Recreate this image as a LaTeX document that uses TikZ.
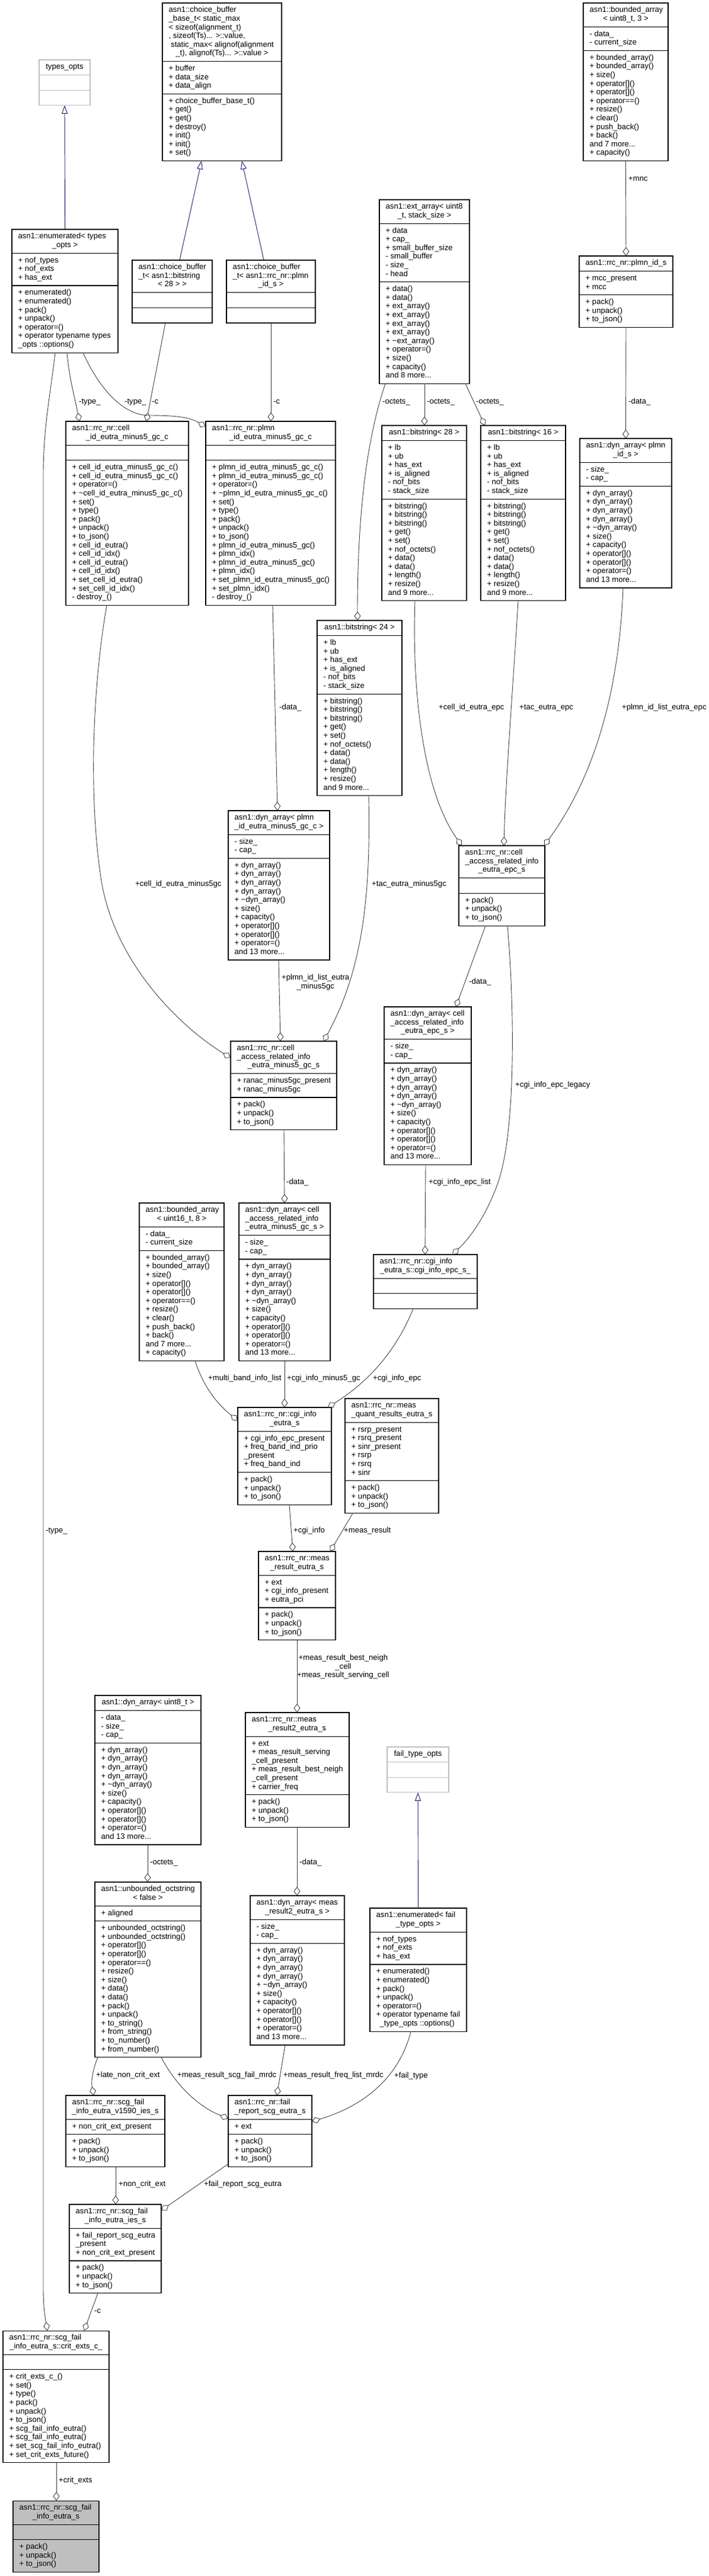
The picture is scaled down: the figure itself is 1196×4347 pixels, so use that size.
\documentclass[tikz,border=0pt]{standalone}
\usepackage{fontspec}
\setmainfont{Liberation Sans}
\usetikzlibrary{arrows.meta,calc}
\definecolor{edgegray}{HTML}{404040}
\definecolor{inhblue}{HTML}{191970}
\definecolor{boxgray}{HTML}{BFBFBF}
\definecolor{fillgray}{HTML}{BFBFBF}
\newcommand\clsfont{\fontsize{13.1}{14.6}\selectfont}
\tikzset{
 box/.style={draw=black, line width=1.1pt, anchor=north west, inner sep=0pt, outer sep=0pt, rectangle},
 sepline/.style={draw=black, line width=1.1pt},
 txt/.style={inner sep=0pt, align=left, font=\clsfont, text=black},
 lbl/.style={inner sep=0pt, align=left, font=\clsfont, anchor=north west, text=black},
 agg/.style={draw=edgegray, line width=0.9pt, -{Diamond[open, length=15pt, width=11pt]}},
 inh/.style={draw=inhblue, line width=0.9pt, -{Triangle[open, length=14pt, width=10pt]}},
 gbox/.style={draw=boxgray},
}
\def\clsparse#1/#2/#3/#4/#5/#6\relax{\def\cx{#1}\def\cy{#2}\def\cw{#3}\def\cnT{#4}\def\cnA{#5}\def\cnM{#6}}
% #1 name, #2 x/y/w/nT/nA/nM, #3 title left lines, #4 title last line, #5 attrs, #6 methods, #7 style
\newcommand\cls[7]{%
  \clsparse#2\relax
  \pgfmathsetmacro\hT{14.6*\cnT+11}%
  \pgfmathsetmacro\hA{14.6*max(\cnA,1)+11}%
  \pgfmathsetmacro\hM{14.6*max(\cnM,1)+11}%
  \pgfmathsetmacro\hH{\hT+\hA+\hM}%
  \pgfmathsetmacro\yL{\cy+5.5+10.22+14.6*(\cnT-1)}%
  \node[box,#7,minimum width=\cw pt,minimum height=\hH pt] (#1) at (\cx,\cy) {};
  \draw[sepline,#7] (\cx,\cy+\hT) -- ++(\cw,0);
  \draw[sepline,#7] (\cx,\cy+\hT+\hA) -- ++(\cw,0);
  \if\relax\detokenize{#3}\relax\else
    \node[txt,anchor=north west] (#1-tl) at (\cx+10.5,\cy+5.5) {\strut #3};
  \fi
  \node[txt,anchor=base] (#1-t) at (\cx+\cw/2,\yL) {#4};
  \ifnum\cnA>0 \node[txt,anchor=north west] (#1-a) at (\cx+10.5,\cy+\hT+5.5) {\strut #5};\fi
  \ifnum\cnM>0 \node[txt,anchor=north west] (#1-m) at (\cx+10.5,\cy+\hT+\hA+5.5) {\strut #6};\fi
}
\newcommand\lbl[4]{\node[lbl] (#1) at (#2,#3-8) {\strut #4};}
\begin{document}
\catcode`\_=12
\def\dynM{+ dyn_array()\\+ dyn_array()\\+ dyn_array()\\+ dyn_array()\\+ \textasciitilde dyn_array()\\+ size()\\+ capacity()\\+ operator[]()\\+ operator[]()\\+ operator=()\\and 13 more...}
\def\bsA{+ lb\\+ ub\\+ has_ext\\+ is_aligned\\- nof_bits\\- stack_size}
\def\bsM{+ bitstring()\\+ bitstring()\\+ bitstring()\\+ get()\\+ set()\\+ nof_octets()\\+ data()\\+ data()\\+ length()\\+ resize()\\and 9 more...}
\def\baM{+ bounded_array()\\+ bounded_array()\\+ size()\\+ operator[]()\\+ operator[]()\\+ operator==()\\+ resize()\\+ clear()\\+ push_back()\\+ back()\\and 7 more...\\+ capacity()}
\def\pujM{+ pack()\\+ unpack()\\+ to_json()}
\def\enumA{+ nof_types\\+ nof_exts\\+ has_ext}
\begin{tikzpicture}[x=1pt,y=-1pt]
\fill[white] (0,0) rectangle (1196,4347);
\useasboundingbox (0,0) rectangle (1196,4347);
% ---------- classes ----------
\cls{topts}{66/101/86/1/0/0}{}{types_opts}{}{}{gbox}
\cls{cbb}{274/5/201/6/3/7}{asn1::choice_buffer\\_base_t< static_max\\< sizeof(alignment_t)\\, sizeof(Ts)... >::value,\\\hspace*{3.5pt}static_max< alignof(alignment}{_t), alignof(Ts)... >::value >}{+ buffer\\+ data_size\\+ data_align}{+ choice_buffer_base_t()\\+ get()\\+ get()\\+ destroy()\\+ init()\\+ init()\\+ set()}{}
\cls{ba3}{984/5/143/2/2/12}{asn1::bounded_array}{< uint8_t, 3 >}{- data_\\- current_size}{\baM}{}
\cls{enumT}{20/387/179/2/3/7}{asn1::enumerated< types}{_opts >}{\enumA}{+ enumerated()\\+ enumerated()\\+ pack()\\+ unpack()\\+ operator=()\\+ operator typename types\\_opts ::options()}{}
\cls{cbbit}{223/439/135/3/0/0}{asn1::choice_buffer\\_t< asn1::bitstring}{< 28 > >}{}{}{}
\cls{cbplmn}{382/439/150/3/0/0}{asn1::choice_buffer\\_t< asn1::rrc_nr::plmn}{_id_s >}{}{}{}
\cls{extarr}{640/337/152/2/6/11}{asn1::ext_array< uint8}{_t, stack_size >}{+ data\\+ cap_\\+ small_buffer_size\\- small_buffer\\- size_\\- head}{+ data()\\+ data()\\+ ext_array()\\+ ext_array()\\+ ext_array()\\+ ext_array()\\+ \textasciitilde ext_array()\\+ operator=()\\+ size()\\+ capacity()\\and 8 more...}{}
\cls{plmnid}{977/432/158/1/2/3}{}{asn1::rrc_nr::plmn_id_s}{+ mcc_present\\+ mcc}{\pujM}{}
\cls{cellid}{111/711/207/2/0/16}{asn1::rrc_nr::cell}{_id_eutra_minus5_gc_c}{}{+ cell_id_eutra_minus5_gc_c()\\+ cell_id_eutra_minus5_gc_c()\\+ operator=()\\+ \textasciitilde cell_id_eutra_minus5_gc_c()\\+ set()\\+ type()\\+ pack()\\+ unpack()\\+ to_json()\\+ cell_id_eutra()\\+ cell_id_idx()\\+ cell_id_eutra()\\+ cell_id_idx()\\+ set_cell_id_eutra()\\+ set_cell_id_idx()\\- destroy_()}{}
\cls{plmneu}{347/711/219/2/0/16}{asn1::rrc_nr::plmn}{_id_eutra_minus5_gc_c}{}{+ plmn_id_eutra_minus5_gc_c()\\+ plmn_id_eutra_minus5_gc_c()\\+ operator=()\\+ \textasciitilde plmn_id_eutra_minus5_gc_c()\\+ set()\\+ type()\\+ pack()\\+ unpack()\\+ to_json()\\+ plmn_id_eutra_minus5_gc()\\+ plmn_idx()\\+ plmn_id_eutra_minus5_gc()\\+ plmn_idx()\\+ set_plmn_id_eutra_minus5_gc()\\+ set_plmn_idx()\\- destroy_()}{}
\cls{bs28}{644/718/143/1/6/11}{}{asn1::bitstring< 28 >}{\bsA}{\bsM}{}
\cls{bs16}{811/718/143/1/6/11}{}{asn1::bitstring< 16 >}{\bsA}{\bsM}{}
\cls{bs24}{535/1047/143/1/6/11}{}{asn1::bitstring< 24 >}{\bsA}{\bsM}{}
\cls{dynplmnid}{978/740/155/2/2/11}{asn1::dyn_array< plmn}{_id_s >}{- size_\\- cap_}{\dynM}{}
\cls{dynplmneu}{385/1368/171/2/2/11}{asn1::dyn_array< plmn}{_id_eutra_minus5_gc_c >}{- size_\\- cap_}{\dynM}{}
\cls{carM}{389/1757/179/3/2/3}{asn1::rrc_nr::cell\\_access_related_info}{_eutra_minus5_gc_s}{+ ranac_minus5gc_present\\+ ranac_minus5gc}{\pujM}{}
\cls{carE}{774/1427/145/3/0/3}{asn1::rrc_nr::cell\\_access_related_info}{_eutra_epc_s}{}{\pujM}{}
\cls{dynCarE}{648/1699/147/3/2/11}{asn1::dyn_array< cell\\_access_related_info}{_eutra_epc_s >}{- size_\\- cap_}{\dynM}{}
\cls{ba16}{235/2030/143/2/2/12}{asn1::bounded_array}{< uint16_t, 8 >}{- data_\\- current_size}{\baM}{}
\cls{dynCarM}{403/2030/154/3/2/11}{asn1::dyn_array< cell\\_access_related_info}{_eutra_minus5_gc_s >}{- size_\\- cap_}{\dynM}{}
\cls{cgiEpc}{630/2117/175/2/0/0}{asn1::rrc_nr::cgi_info}{_eutra_s::cgi_info_epc_s_}{}{}{}
\cls{cgiInfo}{401/2375/158/2/4/3}{asn1::rrc_nr::cgi_info}{_eutra_s}{+ cgi_info_epc_present\\+ freq_band_ind_prio\\_present\\+ freq_band_ind}{\pujM}{}
\cls{mqr}{582/2360/158/2/6/3}{asn1::rrc_nr::meas}{_quant_results_eutra_s}{+ rsrp_present\\+ rsrq_present\\+ sinr_present\\+ rsrp\\+ rsrq\\+ sinr}{\pujM}{}
\cls{mre}{436/2618/130/2/3/3}{asn1::rrc_nr::meas}{_result_eutra_s}{+ ext\\+ cgi_info_present\\+ eutra_pci}{\pujM}{}
\cls{dynU8}{160/2861/179/1/3/11}{}{asn1::dyn_array< uint8_t >}{- data_\\- size_\\- cap_}{\dynM}{}
\cls{mr2}{414/2890/175/2/6/3}{asn1::rrc_nr::meas}{_result2_eutra_s}{+ ext\\+ meas_result_serving\\_cell_present\\+ meas_result_best_neigh\\_cell_present\\+ carrier_freq}{\pujM}{}
\cls{ftopts}{653/2948/104/1/0/0}{}{fail_type_opts}{}{}{gbox}
\cls{uos}{160/3176/179/2/1/15}{asn1::unbounded_octstring}{< false >}{+ aligned}{+ unbounded_octstring()\\+ unbounded_octstring()\\+ operator[]()\\+ operator[]()\\+ operator==()\\+ resize()\\+ size()\\+ data()\\+ data()\\+ pack()\\+ unpack()\\+ to_string()\\+ from_string()\\+ to_number()\\+ from_number()}{}
\cls{dynMr2}{422/3199/159/2/2/11}{asn1::dyn_array< meas}{_result2_eutra_s >}{- size_\\- cap_}{\dynM}{}
\cls{enumF}{624/3220/163/2/3/7}{asn1::enumerated< fail}{_type_opts >}{\enumA}{+ enumerated()\\+ enumerated()\\+ pack()\\+ unpack()\\+ operator=()\\+ operator typename fail\\\hspace*{6pt}_type_opts ::options()}{}
\cls{v1590}{111/3536/167/2/1/3}{asn1::rrc_nr::scg_fail}{_info_eutra_v1590_ies_s}{+ non_crit_ext_present}{\pujM}{}
\cls{frep}{385/3536/141/2/1/3}{asn1::rrc_nr::fail}{_report_scg_eutra_s}{+ ext}{\pujM}{}
\cls{ies}{117/3720/155/2/3/3}{asn1::rrc_nr::scg_fail}{_info_eutra_ies_s}{+ fail_report_scg_eutra\\_present\\+ non_crit_ext_present}{\pujM}{}
\cls{critx}{5/3933/179/2/0/10}{asn1::rrc_nr::scg_fail}{_info_eutra_s::crit_exts_c_}{}{+ crit_exts_c_()\\+ set()\\+ type()\\+ pack()\\+ unpack()\\+ to_json()\\+ scg_fail_info_eutra()\\+ scg_fail_info_eutra()\\+ set_scg_fail_info_eutra()\\+ set_crit_exts_future()}{}
\cls{scgf}{22/4220/145/2/0/3}{asn1::rrc_nr::scg_fail}{_info_eutra_s}{}{\pujM}{fill=fillgray}
% ---------- inheritance ----------
\draw[inh] (enumT.north) -- (topts.south);
\draw[inh] ($(cbbit.north west)+(80,0)$) -- ($(cbb.south west)+(66,0)$);
\draw[inh] ($(cbplmn.north west)+(63,0)$) -- ($(cbb.south west)+(134,0)$);
\draw[inh] (enumF.north) -- (ftopts.south);
% ---------- aggregation ----------
\draw[agg] ($(enumT.south west)+(73,0)$) .. controls (86,660) and (73,720) .. (73,800) -- (73,3860) .. controls (73,3900) and (77,3915) .. ($(critx.north west)+(75,0)$);
\draw[agg] ($(enumT.south west)+(93,0)$) .. controls (117,640) and (128,680) .. ($(cellid.north west)+(23,0)$);
\draw[agg] ($(enumT.south west)+(120,0)$) .. controls (172,665) and (212,700) .. (250,701) .. controls (290,701) and (318,703) .. ($(plmneu.north west)+(0,9)$);
\draw[agg] ($(cbbit.south west)+(56,0)$) -- ($(cellid.north west)+(136,0)$);
\draw[agg] ($(cbplmn.south west)+(75,0)$) -- ($(plmneu.north west)+(110,0)$);
\draw[agg] ($(extarr.south west)+(10,0)$) .. controls (622,730) and (603,850) .. ($(bs24.north west)+(68,0)$);
\draw[agg] ($(extarr.south west)+(76,0)$) -- ($(bs28.north west)+(72,0)$);
\draw[agg] ($(extarr.south west)+(145,0)$) -- ($(bs16.north west)+(7,0)$);
\draw[agg] (ba3.south) -- (plmnid.north);
\draw[agg] (plmnid.south) -- (dynplmnid.north);
\draw[agg] ($(cellid.south west)+(69,0)$) .. controls (158,1150) and (148,1330) .. (170,1480) .. controls (190,1620) and (300,1730) .. ($(carM.north west)+(0,28)$);
\draw[agg] ($(plmneu.south west)+(113,0)$) -- ($(dynplmneu.north west)+(83,0)$);
\draw[agg] ($(dynplmneu.south west)+(85,0)$) -- ($(carM.north west)+(84,0)$);
\draw[agg] ($(bs24.south west)+(87,0)$) .. controls (625,1500) and (615,1630) .. ($(carM.north west)+(157,0)$);
\draw[agg] ($(bs28.south west)+(56,0)$) .. controls (695,1150) and (710,1330) .. ($(carE.north west)+(5,0)$);
\draw[agg] ($(bs16.south west)+(63,0)$) .. controls (866,1150) and (852,1330) .. ($(carE.north west)+(76,0)$);
\draw[agg] ($(dynplmnid.south west)+(73,0)$) .. controls (1045,1150) and (1010,1300) .. ($(carE.north west)+(144,0)$);
\draw[agg] ($(carE.south west)+(45,0)$) -- ($(dynCarE.north west)+(121,0)$);
\draw[agg] ($(carE.south west)+(82,0)$) .. controls (868,1700) and (870,1900) .. (842,1990) .. controls (822,2050) and (792,2090) .. ($(cgiEpc.north west)+(133,0)$);
\draw[agg] ($(dynCarE.south west)+(70,0)$) -- ($(cgiEpc.north west)+(87,0)$);
\draw[agg] ($(carM.south west)+(90,0)$) -- ($(dynCarM.north west)+(77,0)$);
\draw[agg] ($(ba16.south west)+(94,0)$) .. controls (345,2345) and (370,2372) .. ($(cgiInfo.north west)+(0,22)$);
\draw[agg] ($(dynCarM.south west)+(77,0)$) -- ($(cgiInfo.north west)+(79,0)$);
\draw[agg] ($(cgiEpc.south west)+(67,0)$) .. controls (660,2300) and (600,2345) .. ($(cgiInfo.north west)+(152,0)$);
\draw[agg] ($(cgiInfo.south west)+(87,0)$) -- ($(mre.north west)+(58,0)$);
\draw[agg] ($(mqr.south west)+(13,0)$) -- ($(mre.north west)+(121,0)$);
\draw[agg] ($(mre.south west)+(65,0)$) -- ($(mr2.north west)+(87,0)$);
\draw[agg] ($(mr2.south west)+(87,0)$) -- ($(dynMr2.north west)+(79,0)$);
\draw[agg] ($(dynU8.south west)+(89,0)$) -- ($(uos.north west)+(89,0)$);
\draw[agg] ($(uos.south west)+(5,0)$) .. controls (155,3495) and (154,3515) .. ($(v1590.north west)+(47,0)$);
\draw[agg] ($(uos.south west)+(112,0)$) .. controls (300,3525) and (340,3557) .. ($(frep.north west)+(0,39)$);
\draw[agg] ($(dynMr2.south west)+(59,0)$) -- ($(frep.north west)+(82,0)$);
\draw[agg] ($(enumF.south west)+(69,0)$) .. controls (675,3500) and (620,3552) .. ($(frep.north east)+(0,44)$);
\draw[agg] ($(v1590.south west)+(84,0)$) -- ($(ies.north west)+(78,0)$);
\draw[agg] ($(frep.south west)+(0,-5)$) -- ($(ies.north east)+(0,10)$);
\draw[agg] ($(ies.south west)+(48,0)$) -- ($(critx.north west)+(137,0)$);
\draw[agg] ($(critx.south west)+(90,0)$) -- ($(scgf.north west)+(73,0)$);
% ---------- labels ----------
\lbl{l1}{77}{2584}{-type_}
\lbl{l2}{133}{679}{-type_}
\lbl{l3}{210}{679}{-type_}
\lbl{l4}{256}{679}{-c}
\lbl{l5}{461}{679}{-c}
\lbl{l6}{645}{679}{-octets_}
\lbl{l7}{720}{679}{-octets_}
\lbl{l8}{803}{679}{-octets_}
\lbl{l9}{1060}{303}{+mnc}
\lbl{l10}{1060}{679}{-data_}
\lbl{l11}{228}{1493}{+cell_id_eutra_minus5gc}
\lbl{l12}{471}{1195}{-data_}
\node[lbl,align=center] (l13) at (475,1643) {\strut +plmn_id_list_eutra\\_minus5gc};
\lbl{l14}{627}{1493}{+tac_eutra_minus5gc}
\lbl{l15}{740}{1195}{+cell_id_eutra_epc}
\lbl{l16}{876}{1195}{+tac_eutra_epc}
\lbl{l17}{1049}{1195}{+plmn_id_list_eutra_epc}
\lbl{l18}{791}{1658}{-data_}
\lbl{l19}{869}{1832}{+cgi_info_epc_legacy}
\lbl{l20}{723}{1996}{+cgi_info_epc_list}
\lbl{l21}{483}{1996}{-data_}
\lbl{l22}{351}{2327}{+multi_band_info_list}
\lbl{l23}{484}{2327}{+cgi_info_minus5_gc}
\lbl{l24}{629}{2327}{+cgi_info_epc}
\lbl{l25}{495}{2584}{+cgi_info}
\lbl{l26}{580}{2584}{+meas_result}
\node[lbl,align=center] (l27) at (501,2791) {\strut +meas_result_best_neigh\\_cell\\+meas_result_serving_cell};
\lbl{l28}{505}{3144}{-data_}
\lbl{l29}{253}{3144}{-octets_}
\lbl{l30}{162}{3503}{+late_non_crit_ext}
\lbl{l31}{299}{3503}{+meas_result_scg_fail_mrdc}
\lbl{l32}{478}{3503}{+meas_result_freq_list_mrdc}
\lbl{l33}{665}{3504}{+fail_type}
\lbl{l34}{200}{3687}{+non_crit_ext}
\lbl{l35}{344}{3687}{+fail_report_scg_eutra}
\lbl{l36}{159}{3901}{-c}
\lbl{l37}{99}{4187}{+crit_exts}
\end{tikzpicture}
\end{document}
